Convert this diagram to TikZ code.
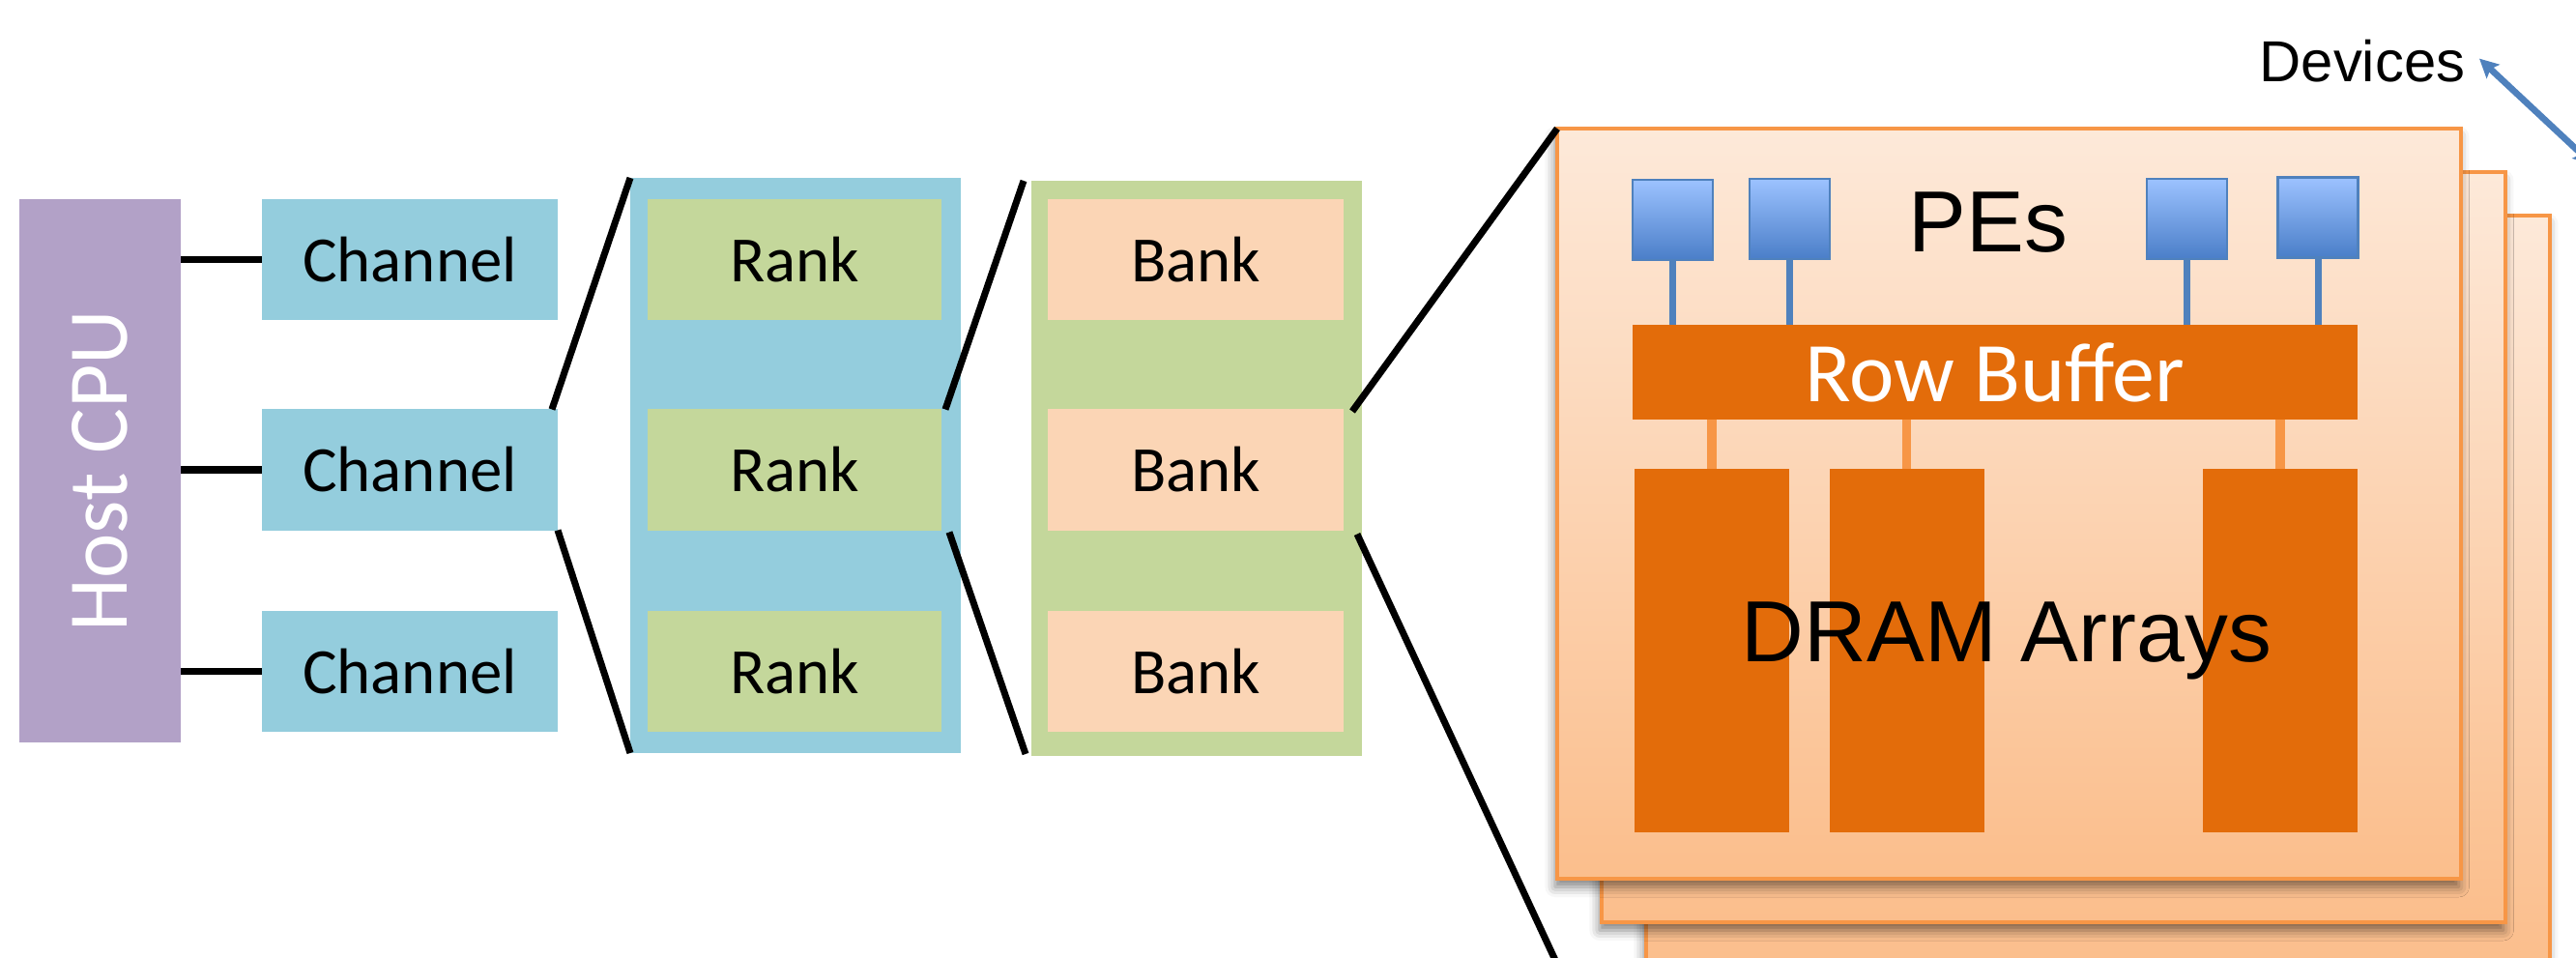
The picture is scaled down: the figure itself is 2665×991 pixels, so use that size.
\documentclass[tikz,border=0pt]{standalone}
\usepackage{graphicx}
\usepackage{fontspec}
\setmainfont{Carlito}
\newfontfamily\arialfont{Liberation Sans}
\usetikzlibrary{calc,arrows.meta,shadows.blur}

\definecolor{hostpurple}{HTML}{B2A1C7}
\definecolor{chanblue}{HTML}{94CDDD}
\definecolor{rankgreen}{HTML}{C4D79B}
\definecolor{bankpeach}{HTML}{FBD5B5}
\definecolor{devtop}{HTML}{FDE9D9}
\definecolor{devbottom}{HTML}{FBBE8C}
\definecolor{devedge}{HTML}{F79646}
\definecolor{buforange}{HTML}{E36C0A}
\definecolor{petop}{HTML}{9CC2FF}
\definecolor{pebottom}{HTML}{4A7EC8}
\definecolor{peedge}{HTML}{4F81BD}

% one drawing unit = one pixel of the layout grid
\newdimen\pxu \pxu=0.01cm

\begin{document}
\begin{tikzpicture}[x=0.01cm,y=-0.01cm,
  block/.style={rectangle, inner sep=0pt, outer sep=0pt},
  cellfont/.style={font=\fontsize{19}{19}\selectfont},
  hostbox/.style={block, fill=hostpurple, minimum width=167\pxu, minimum height=562\pxu,
    text=white, font=\fontsize{25}{25}\selectfont},
  chanbox/.style={block, cellfont, fill=chanblue, minimum width=306\pxu, minimum height=125\pxu},
  rankbox/.style={block, cellfont, fill=rankgreen, minimum width=304\pxu, minimum height=125\pxu},
  bankbox/.style={block, cellfont, fill=bankpeach, minimum width=306\pxu, minimum height=125\pxu},
  rankgroup/.style={block, fill=chanblue, minimum width=342\pxu, minimum height=595\pxu},
  bankgroup/.style={block, fill=rankgreen, minimum width=342\pxu, minimum height=595\pxu},
  devbox/.style={block, draw=devedge, line width=0.9pt, top color=devtop, bottom color=devbottom,
    minimum width=935\pxu, minimum height=776\pxu,
    blur shadow={shadow xshift=-0.6pt, shadow yshift=-2.4pt, shadow blur radius=3pt, shadow opacity=50}},
  pebox/.style={block, draw=peedge, line width=0.6pt, top color=petop, bottom color=pebottom,
    minimum width=83\pxu, minimum height=83\pxu},
  bufbox/.style={block, fill=buforange, minimum width=750\pxu, minimum height=98\pxu,
    text=white, font=\fontsize{25}{25}\selectfont},
  arraybox/.style={block, fill=buforange, minimum width=160\pxu, minimum height=376\pxu},
  bigtext/.style={inner sep=0pt, font=\arialfont\fontsize{25.5}{25.5}\selectfont},
  link/.style={line width=2pt, black},
  zoomline/.style={line width=2pt, black},
  pestem/.style={line width=2pt, peedge},
  arraystem/.style={line width=2.8pt, devedge},
  devarrow/.style={line width=1.9pt, peedge,
    {Stealth[length=5.5pt,width=5.5pt,inset=1pt]}-{Stealth[length=5.5pt,width=5.5pt,inset=1pt]}}
]
\useasboundingbox (0,0) rectangle (2665,991);
\clip (0,0) rectangle (2665,991);

% host and channels
\node[hostbox] (host) at (103.5,487) {\rotatebox{90}{Host CPU}};
\node[chanbox] (ch1) at (424,268.5) {Channel};
\node[chanbox] (ch2) at (424,486) {Channel};
\node[chanbox] (ch3) at (424,694.5) {Channel};
\foreach \c in {ch1,ch2,ch3}
  \draw[link] (host.east |- \c.west) -- (\c.west);

% ranks inside one channel
\node[rankgroup] (rankc) at (823,481.5) {};
\node[rankbox] (rk1) at (822,268.5) {Rank};
\node[rankbox] (rk2) at (822,486) {Rank};
\node[rankbox] (rk3) at (822,694.5) {Rank};

% banks inside one rank
\node[bankgroup] (bankc) at (1238,484.5) {};
\node[bankbox] (bk1) at (1237,268.5) {Bank};
\node[bankbox] (bk2) at (1237,486) {Bank};
\node[bankbox] (bk3) at (1237,694.5) {Bank};

% stacked devices
\node[devbox] (dev3) at (2170.5,611) {};
\node[devbox] (dev2) at (2124.5,566) {};
\node[devbox] (dev1) at (2078.5,521) {};

% processing elements and row buffer
\node[pebox] (pe1) at (1730.5,227.5) {};
\node[pebox] (pe2) at (1851.5,226.5) {};
\node[pebox] (pe3) at (2262.5,226.5) {};
\node[pebox] (pe4) at (2398,225) {};
\node[bufbox] (rowbuf) at (2064,385) {Row Buffer};
\foreach \p in {pe1,pe2,pe3,pe4}
  \draw[pestem] (\p.south) -- (\p.south |- rowbuf.north);
\node[bigtext, anchor=base] (pelabel) at (2057,261) {PEs};

% DRAM arrays below the row buffer
\node[arraybox] (arr1) at (1771,673) {};
\node[arraybox] (arr2) at (1972.5,673) {};
\node[arraybox] (arr3) at (2359,673) {};
\foreach \a in {arr1,arr2,arr3}
  \draw[arraystem] (\a.north |- rowbuf.south) -- (\a.north);
\node[bigtext, anchor=base] (arrlabel) at (2076,684) {DRAM Arrays};

% zoom-in lines between levels
\coordinate (zoomfoot) at (1614,1004);
\draw[zoomline] ($(ch2.north east)+(-6,0)$) -- (rankc.north west);
\draw[zoomline] (ch2.south east) -- (rankc.south west);
\draw[zoomline] ($(rk2.north east)+(4,0)$) -- ($(bankc.north west)+(-8,0)$);
\draw[zoomline] ($(rk2.south east)+(8,2)$) -- ($(bankc.south west)+(-6,-2)$);
\draw[zoomline] ($(bk2.north east)+(9,2)$) -- (dev1.north west);
\draw[zoomline] ($(bk2.south east)+(14,4)$) -- (zoomfoot);

% device label and its arrow
\coordinate (devend) at (2682,170);
\node[inner sep=0pt, anchor=base, font=\arialfont\fontsize{17}{17}\selectfont] (devlabel) at (2444,85) {Devices};
\draw[devarrow] ($(devlabel.east)+(14,-3)$) -- (devend);
\end{tikzpicture}
\end{document}
